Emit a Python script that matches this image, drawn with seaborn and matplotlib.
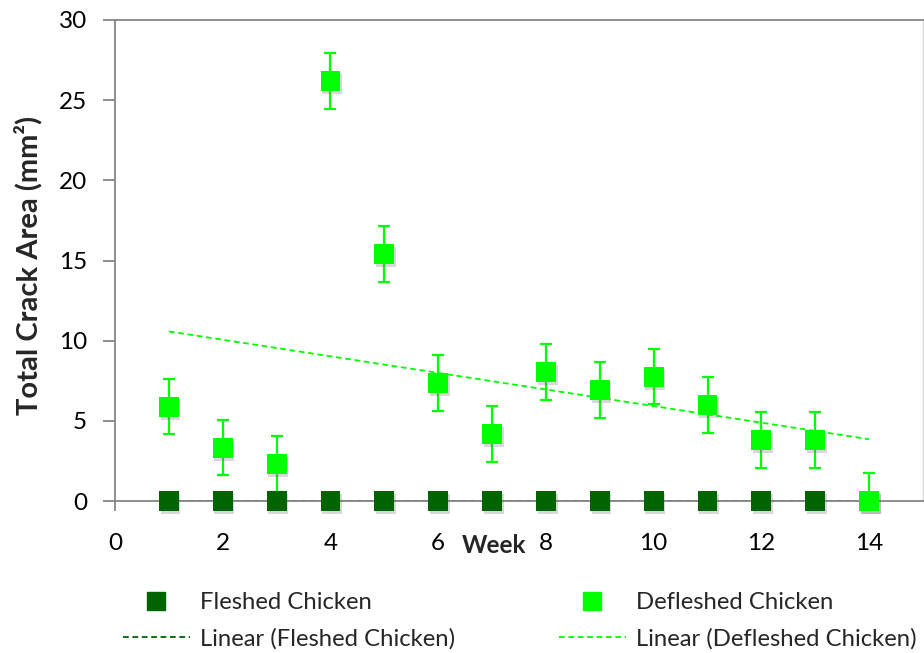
import matplotlib
matplotlib.use("Agg")
import matplotlib.pyplot as plt
import matplotlib.patheffects as pe
from matplotlib.lines import Line2D
import numpy as np
import pandas as pd
import seaborn as sns

# Crack area measurements per week
weeks = [1, 2, 3, 4, 5, 6, 7, 8, 9, 10, 11, 12, 13, 14]
fleshed = [0, 0, 0, 0, 0, 0, 0, 0, 0, 0, 0, 0, 0, 0]
defleshed = [5.88, 3.33, 2.31, 26.22, 15.41, 7.36, 4.18, 8.05, 6.92, 7.76, 5.99, 3.79, 3.79, 0.0]
defleshed_err = [1.73, 1.73, 1.74, 1.75, 1.72, 1.73, 1.73, 1.73, 1.73, 1.73, 1.73, 1.73, 1.73, 1.75]
x_ticks = [0, 2, 4, 6, 8, 10, 12, 14]
y_ticks = [0, 5, 10, 15, 20, 25, 30]

DARK = "#006400"
BRIGHT = "#00FF00"
AXIS_GRAY = "#868686"
DASH = (0, (3.2, 2.0))

sns.set_theme(style="white")
plt.rcParams["font.family"] = ["Lato", "DejaVu Sans"]

df = pd.DataFrame({"week": weeks, "fleshed": fleshed, "defleshed": defleshed})

fig = plt.figure(figsize=(9.24, 6.53), dpi=100)
ax = fig.add_axes([115 / 924, 152 / 653, 808 / 924, 481 / 653])

shadow = [pe.SimplePatchShadow(offset=(1.2, -2.2), shadow_rgbFace="#666666", alpha=0.25), pe.Normal()]

# linear trend lines
sns.regplot(data=df, x="week", y="fleshed", scatter=False, ci=None, truncate=True, ax=ax,
            line_kws=dict(color=DARK, lw=1.3, ls=DASH, zorder=2))
sns.regplot(data=df, x="week", y="defleshed", scatter=False, ci=None, truncate=True, ax=ax,
            line_kws=dict(color=BRIGHT, lw=1.3, ls=DASH, zorder=2))

# error bars for defleshed samples (clipped at the axis floor)
ax.errorbar(weeks, defleshed, yerr=defleshed_err, fmt="none", ecolor=BRIGHT,
            elinewidth=1.6, capsize=4.3, capthick=1.6, zorder=3)

# markers
sns.scatterplot(data=df, x="week", y="fleshed", marker="s", s=205, color=DARK,
                linewidth=0, ax=ax, zorder=4, clip_on=False)
sns.scatterplot(data=df, x="week", y="defleshed", marker="s", s=205, color=BRIGHT,
                linewidth=0, ax=ax, zorder=5, clip_on=False)
for coll in ax.collections:
    if coll.get_offsets() is not None and len(coll.get_offsets()) == len(weeks):
        coll.set_path_effects(shadow)

ax.set_xlim(0, 15)
ax.set_ylim(0, 30)
ax.set_xticks(x_ticks)
ax.set_yticks(y_ticks)
ax.tick_params(axis="y", direction="out", length=9, width=1.3, color=AXIS_GRAY,
               pad=11, labelsize=17.5, labelcolor="black", left=True)
ax.tick_params(axis="x", direction="out", length=7, width=1.3, color=AXIS_GRAY,
               pad=16, labelsize=17.5, labelcolor="black", bottom=True)

for side in ["left", "bottom", "top"]:
    ax.spines[side].set_color(AXIS_GRAY)
    ax.spines[side].set_linewidth(1.3)
ax.spines["right"].set_color("#d9d9d9")
ax.spines["right"].set_linewidth(1.0)

ax.set_ylabel("Total Crack Area (mm²)", fontsize=21, fontweight="bold", va="center")
ax.yaxis.set_label_coords(-0.1077, 0.489)
ax.set_xlabel("Week", fontsize=17.5, fontweight="bold", va="center")
ax.xaxis.set_label_coords(0.469, -0.0915)

# legend, two columns placed below the plot
def legend_handles(color):
    mk = Line2D([], [], marker="s", ls="none", color=color, markersize=12.5)
    ln = Line2D([], [], color=color, lw=1.3, ls=DASH)
    return [mk, ln]

common = dict(frameon=False, fontsize=17.2, handlelength=2.8, handletextpad=0.42,
              labelspacing=0.62, borderpad=0, borderaxespad=0, loc="upper left")
fig.legend(legend_handles(DARK), ["Fleshed Chicken", "Linear (Fleshed Chicken)"],
           bbox_to_anchor=(123 / 924, (653 - 592) / 653), **common)
fig.legend(legend_handles(BRIGHT), ["Defleshed Chicken", "Linear (Defleshed Chicken)"],
           bbox_to_anchor=(559 / 924, (653 - 592) / 653), **common)

fig.savefig("out.png", dpi=100)
